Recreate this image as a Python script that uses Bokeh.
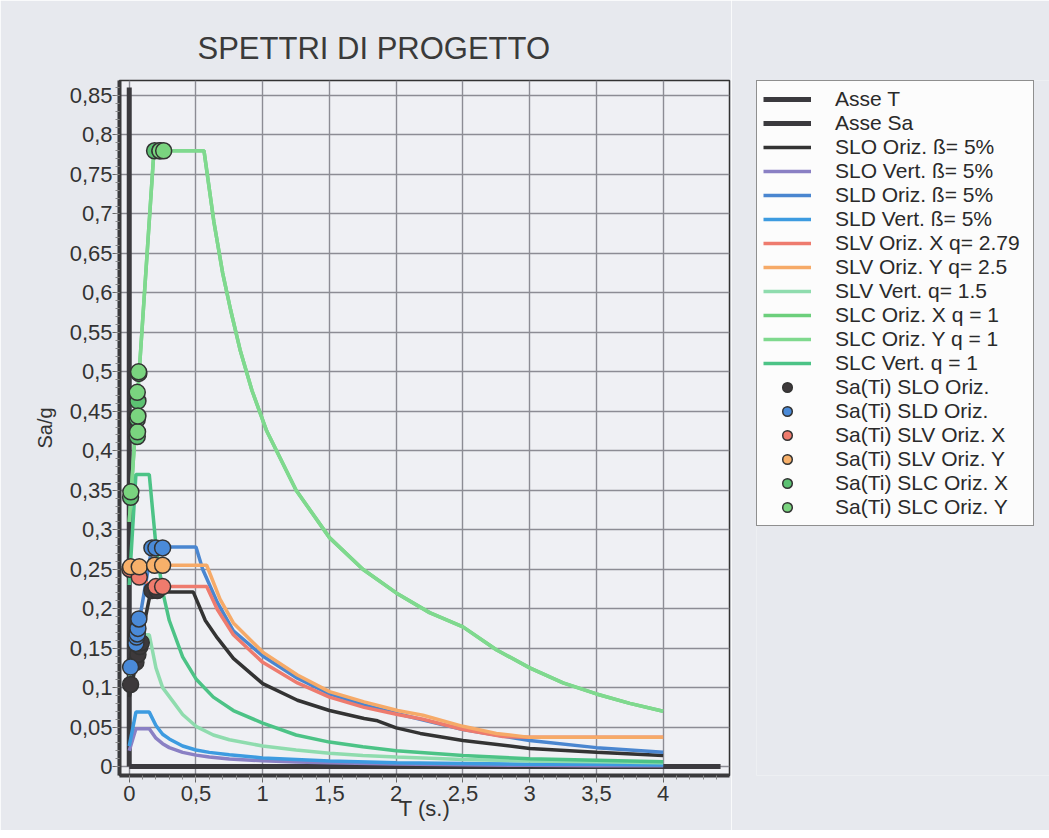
from bokeh.plotting import figure
from bokeh.layouts import row
from bokeh.models import FixedTicker, Legend, LegendItem, Range1d
from bokeh.embed import file_html
from bokeh.resources import INLINE

FONT = "Liberation Sans"
BG = "#e7e9ee"

# ---------------- data ----------------
x_ticks = [0, 0.5, 1, 1.5, 2, 2.5, 3, 3.5, 4]
x_labels = ["0", "0,5", "1", "1,5", "2", "2,5", "3", "3,5", "4"]
y_ticks = [0, 0.05, 0.1, 0.15, 0.2, 0.25, 0.3, 0.35, 0.4, 0.45, 0.5, 0.55,
           0.6, 0.65, 0.7, 0.75, 0.8, 0.85]
y_labels = ["0", "0,05", "0,1", "0,15", "0,2", "0,25", "0,3", "0,35", "0,4",
            "0,45", "0,5", "0,55", "0,6", "0,65", "0,7", "0,75", "0,8", "0,85"]

asse_t_T = [0.0, 4.43]
asse_t_Sa = [0.0, 0.0]
asse_sa_T = [0.0, 0.0]
asse_sa_Sa = [0.0, 0.86]

slo_or_T = [0, 0.16, 0.48, 0.57, 0.66, 0.78, 1.0, 1.26, 1.5, 1.76, 1.86, 2.0, 2.18, 2.5, 3.0, 3.5, 4.0]
slo_or_Sa = [0.088, 0.221, 0.221, 0.185, 0.163, 0.137, 0.105, 0.084, 0.071, 0.061, 0.058, 0.049, 0.042, 0.033, 0.023, 0.018, 0.014]

slo_ve_T = [0, 0.05, 0.15, 0.2, 0.25, 0.3, 0.4, 0.5, 0.6, 0.75, 1.0, 1.25, 1.5, 2.0, 2.5, 3.0, 3.5, 4.0]
slo_ve_Sa = [0.02, 0.048, 0.048, 0.036, 0.029, 0.024, 0.018, 0.0145, 0.012, 0.0097, 0.0073, 0.0058, 0.0047, 0.0032, 0.0022, 0.0016, 0.0012, 0.0009]

sld_or_T = [0, 0.17, 0.50, 0.55, 0.66, 0.78, 1.0, 1.26, 1.5, 1.76, 2.01, 2.18, 2.5, 3.0, 3.5, 4.0]
sld_or_Sa = [0.11, 0.278, 0.278, 0.25, 0.208, 0.172, 0.140, 0.112, 0.092, 0.078, 0.067, 0.060, 0.047, 0.033, 0.024, 0.018]

sld_ve_T = [0, 0.05, 0.15, 0.2, 0.25, 0.3, 0.4, 0.5, 0.6, 0.75, 1.0, 1.25, 1.5, 2.0, 2.5, 3.0, 3.5, 4.0]
sld_ve_Sa = [0.026, 0.069, 0.069, 0.052, 0.041, 0.035, 0.026, 0.021, 0.018, 0.015, 0.011, 0.009, 0.007, 0.005, 0.004, 0.003, 0.003, 0.002]

slv_x_T = [0, 0.17, 0.58, 0.66, 0.78, 1.0, 1.26, 1.5, 1.76, 2.01, 2.2, 2.5, 2.8, 3.0, 3.5, 4.0]
slv_x_Sa = [0.25, 0.228, 0.228, 0.199, 0.167, 0.132, 0.106, 0.088, 0.075, 0.066, 0.060, 0.047, 0.038, 0.037, 0.037, 0.037]

slv_y_T = [0, 0.17, 0.58, 0.68, 0.78, 1.0, 1.26, 1.5, 1.76, 2.01, 2.2, 2.5, 2.75, 3.0, 3.5, 4.0]
slv_y_Sa = [0.25, 0.255, 0.255, 0.212, 0.182, 0.145, 0.116, 0.095, 0.082, 0.071, 0.065, 0.051, 0.042, 0.037, 0.037, 0.037]

slv_ve_T = [0, 0.05, 0.15, 0.2, 0.25, 0.33, 0.4, 0.5, 0.63, 0.75, 1.0, 1.25, 1.5, 1.75, 2.0, 2.5, 3.0, 3.5, 4.0]
slv_ve_Sa = [0.11, 0.167, 0.167, 0.125, 0.10, 0.082, 0.066, 0.051, 0.040, 0.034, 0.026, 0.021, 0.017, 0.014, 0.012, 0.009, 0.007, 0.006, 0.005]

slc_or_T = [0, 0.185, 0.56, 0.634, 0.70, 0.76, 0.83, 0.92, 1.03, 1.25, 1.5, 1.75, 2.0, 2.25, 2.5, 2.75, 3.0, 3.25, 3.5, 3.75, 4.0]
slc_or_Sa = [0.31, 0.78, 0.78, 0.69, 0.625, 0.578, 0.528, 0.476, 0.425, 0.35, 0.29, 0.25, 0.22, 0.195, 0.177, 0.148, 0.125, 0.106, 0.092, 0.080, 0.070]

slc_ve_T = [0, 0.05, 0.15, 0.2, 0.25, 0.3, 0.4, 0.5, 0.63, 0.78, 1.0, 1.25, 1.5, 1.75, 2.0, 2.5, 3.0, 3.5, 4.0]
slc_ve_Sa = [0.23, 0.37, 0.37, 0.28, 0.222, 0.185, 0.139, 0.111, 0.088, 0.071, 0.055, 0.040, 0.031, 0.025, 0.020, 0.014, 0.010, 0.008, 0.006]

pt_slo_T = [0.01, 0.05, 0.065, 0.08, 0.09, 0.17, 0.21]
pt_slo_Sa = [0.104, 0.132, 0.142, 0.152, 0.157, 0.223, 0.223]
pt_sld_T = [0.01, 0.05, 0.055, 0.06, 0.065, 0.072, 0.17, 0.20, 0.25]
pt_sld_Sa = [0.126, 0.156, 0.164, 0.168, 0.175, 0.187, 0.277, 0.277, 0.277]
pt_slvx_T = [0.005, 0.075, 0.2, 0.25]
pt_slvx_Sa = [0.25, 0.24, 0.228, 0.228]
pt_slvy_T = [0.01, 0.075, 0.19, 0.25]
pt_slvy_Sa = [0.253, 0.253, 0.255, 0.255]
pt_slcx_T = [0.01, 0.06, 0.06, 0.065, 0.072, 0.19, 0.23]
pt_slcx_Sa = [0.341, 0.418, 0.440, 0.463, 0.498, 0.78, 0.78]
pt_slcy_T = [0.012, 0.062, 0.065, 0.06, 0.07, 0.23, 0.258]
pt_slcy_Sa = [0.348, 0.424, 0.444, 0.474, 0.50, 0.78, 0.78]

# off-screen sample used only so that the legend panel can draw its swatches
swatch_x = [-5.0, -4.0]
swatch_y = [-5.0, -4.0]

# ---------------- main figure ----------------
p = figure(width=731, height=830, output_backend="svg", toolbar_location=None,
           x_range=Range1d(-0.073, 4.497), y_range=Range1d(-0.0113, 0.869),
           min_border_left=119, min_border_right=2, min_border_top=80,
           min_border_bottom=55)
p.border_fill_color = BG
p.background_fill_color = "#eff0f4"
p.outline_line_color = "#333333"
p.outline_line_width = 1.5

p.title.text = "SPETTRI DI PROGETTO"
p.title.align = "left"
p.title.offset = 78
p.title.text_font = FONT
p.title.text_font_size = "31px"
p.title.text_font_style = "normal"
p.title.text_color = "#3a3a3a"
p.title.standoff = 29

xt = FixedTicker(ticks=x_ticks, minor_ticks=[i * 0.1 for i in range(0, 45)])
yt = FixedTicker(ticks=y_ticks, minor_ticks=[i * 0.01 for i in range(0, 87)])
p.xaxis.ticker = xt
p.yaxis.ticker = yt
p.xaxis.major_label_overrides = dict(zip(x_ticks, x_labels))
p.yaxis.major_label_overrides = dict(zip(y_ticks, y_labels))

for ax in (p.xaxis, p.yaxis):
    ax.axis_line_width = 4
    ax.axis_line_color = "#3a3a3c"
    ax.major_tick_line_color = "#666666"
    ax.minor_tick_line_color = "#888888"
    ax.major_tick_in = 0
    ax.minor_tick_in = 0
    ax.major_tick_out = 7
    ax.minor_tick_out = 4
    ax.major_label_text_font = FONT
    ax.major_label_text_font_size = "22px"
    ax.major_label_text_color = "#333333"
    ax.axis_label_text_font = FONT
    ax.axis_label_text_font_style = "normal"
    ax.axis_label_text_color = "#333333"
p.xaxis.axis_label = "T (s.)"
p.yaxis.axis_label = "Sa/g"
p.xaxis.axis_label_text_font_size = "22px"
p.yaxis.axis_label_text_font_size = "20px"
p.xaxis.major_label_standoff = 3
p.xaxis.axis_label_standoff = -8
p.yaxis.major_label_standoff = 0
p.yaxis.axis_label_standoff = 11

p.grid.grid_line_color = "#8c8c94"
p.grid.grid_line_width = 1.4

# ---------------- legend panel ----------------
lg = figure(width=318, height=830, output_backend="svg", toolbar_location=None,
            x_axis_location=None, y_axis_location=None,
            x_range=Range1d(0, 1), y_range=Range1d(0, 1),
            min_border_left=25, min_border_right=0, min_border_top=80,
            min_border_bottom=55)
lg.border_fill_color = BG
lg.background_fill_color = BG
lg.outline_line_color = None
lg.grid.visible = False

items = []
def L(x, y, color, label, width=3.5):
    p.line(x, y, line_color=color, line_width=width)
    d = lg.line(swatch_x, swatch_y, line_color=color, line_width=width)
    items.append(LegendItem(label=label, renderers=[d]))

L(asse_t_T, asse_t_Sa, "#3b3a3e", "Asse T", 5)
L(asse_sa_T, asse_sa_Sa, "#3b3a3e", "Asse Sa", 5)
L(slo_or_T, slo_or_Sa, "#333333", "SLO Oriz. ß= 5%")
L(slo_ve_T, slo_ve_Sa, "#8a80c4", "SLO Vert. ß= 5%")
L(sld_or_T, sld_or_Sa, "#4a86d0", "SLD Oriz. ß= 5%")
L(sld_ve_T, sld_ve_Sa, "#3d9be0", "SLD Vert. ß= 5%")
L(slv_x_T, slv_x_Sa, "#ee7b6e", "SLV Oriz. X q= 2.79")
L(slv_y_T, slv_y_Sa, "#f6aa68", "SLV Oriz. Y q= 2.5")
L(slv_ve_T, slv_ve_Sa, "#8fdcae", "SLV Vert. q= 1.5")
L(slc_or_T, slc_or_Sa, "#6ccf7c", "SLC Oriz. X q = 1")
L(slc_or_T, slc_or_Sa, "#7fd98e", "SLC Oriz. Y q = 1")
L(slc_ve_T, slc_ve_Sa, "#4cc386", "SLC Vert. q = 1")

def P(x, y, color, label):
    p.scatter(x, y, size=16, fill_color=color, line_color="#333333",
              line_width=1.5)
    d = lg.scatter(swatch_x, swatch_y, size=16, fill_color=color,
                   line_color="#333333", line_width=1.5)
    items.append(LegendItem(label=label, renderers=[d]))

P(pt_slo_T, pt_slo_Sa, "#3d393b", "Sa(Ti) SLO Oriz.")
P(pt_sld_T, pt_sld_Sa, "#4a8ad8", "Sa(Ti) SLD Oriz.")
P(pt_slvx_T, pt_slvx_Sa, "#ef7b6d", "Sa(Ti) SLV Oriz. X")
P(pt_slvy_T, pt_slvy_Sa, "#f7b06a", "Sa(Ti) SLV Oriz. Y")
P(pt_slcx_T, pt_slcx_Sa, "#5cc172", "Sa(Ti) SLC Oriz. X")
P(pt_slcy_T, pt_slcy_Sa, "#7ad47f", "Sa(Ti) SLC Oriz. Y")

legend = Legend(items=items, location="top_left", margin=0, padding=6,
                spacing=0, glyph_width=48, glyph_height=24, label_height=20,
                label_width=192, label_standoff=24, label_text_font=FONT,
                label_text_font_size="21px", label_text_color="#2a2a2a",
                border_line_color="#222222", border_line_width=1.5,
                background_fill_color="#fcfcfc", background_fill_alpha=1.0)
lg.add_layout(legend, "center")

layout = row(p, lg)
open("out.html", "w").write(file_html(layout, INLINE))
